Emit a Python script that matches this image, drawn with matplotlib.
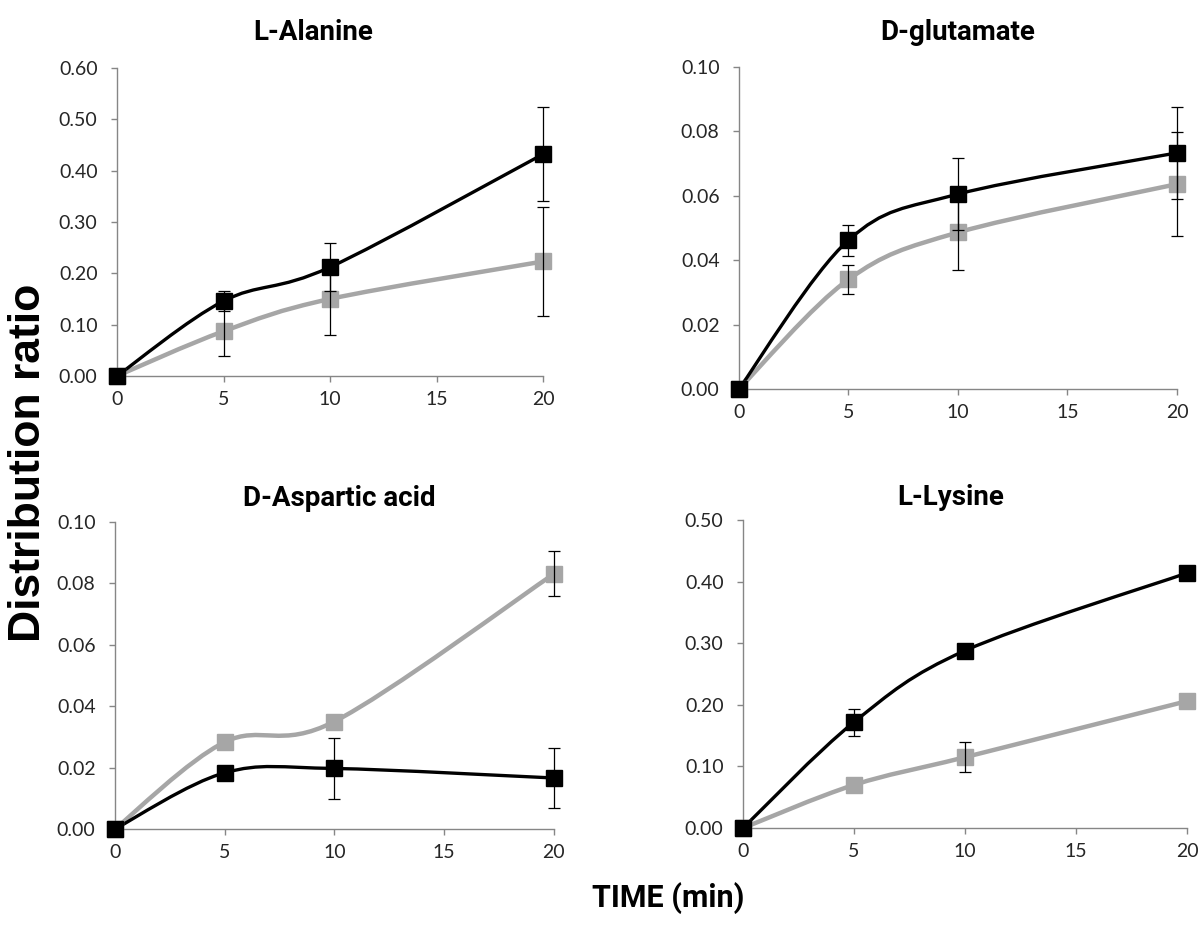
import numpy as np
import matplotlib.pyplot as plt
from matplotlib.path import Path
from matplotlib.patches import PathPatch

plt.rcParams['font.family'] = ['Lato', 'Liberation Sans', 'DejaVu Sans']
TITLE_FONT = ['Roboto', 'Liberation Sans', 'DejaVu Sans']

time = [0, 5, 10, 20]

titles = ['L-Alanine', 'D-glutamate', 'D-Aspartic acid', 'L-Lysine']

# black series (mean, error)
black_vals = [
    [0, 0.146, 0.212, 0.432],
    [0, 0.0462, 0.0605, 0.0733],
    [0, 0.0183, 0.0197, 0.0166],
    [0, 0.172, 0.288, 0.414],
]
black_err = [
    [0, 0.020, 0.047, 0.091],
    [0, 0.0048, 0.0112, 0.0142],
    [0, 0.0, 0.0098, 0.0097],
    [0, 0.022, 0.0, 0.0],
]
# grey series
grey_vals = [
    [0, 0.087, 0.150, 0.223],
    [0, 0.0340, 0.0486, 0.0636],
    [0, 0.0283, 0.0350, 0.0831],
    [0, 0.070, 0.115, 0.206],
]
grey_err = [
    [0, 0.049, 0.071, 0.107],
    [0, 0.0045, 0.0118, 0.0161],
    [0, 0.0, 0.0, 0.0073],
    [0, 0.0, 0.024, 0.0],
]

ymax = [0.60, 0.10, 0.10, 0.50]
ystep = [0.10, 0.02, 0.02, 0.10]

# axes boxes in figure fractions [left, bottom, width, height]
boxes = [
    [0.0975, 0.594, 0.355, 0.3326],
    [0.6158, 0.580, 0.365, 0.3477],
    [0.0958, 0.1048, 0.3658, 0.3315],
    [0.6192, 0.1058, 0.370, 0.3326],
]
# title centres (figure fractions)
title_pos = [(0.261, 0.965), (0.798, 0.965), (0.283, 0.462), (0.792, 0.463)]

GREY = '#a6a6a6'
AXC = '#868686'


def smooth_path(x, y):
    # Excel-like smoothed line: cubic Bezier through the points (Catmull-Rom)
    pts = np.column_stack([x, y]).astype(float)
    n = len(pts)
    verts = [pts[0]]
    codes = [Path.MOVETO]
    for i in range(n - 1):
        p0 = pts[max(i - 1, 0)]
        p1 = pts[i]
        p2 = pts[i + 1]
        p3 = pts[min(i + 2, n - 1)]
        c1 = p1 + (p2 - p0) / 6.0
        c2 = p2 - (p3 - p1) / 6.0
        verts += [c1, c2, p2]
        codes += [Path.CURVE4] * 3
    return Path(verts, codes)


fig = plt.figure(figsize=(12, 9.26), dpi=100)

for k in range(4):
    ax = fig.add_axes(boxes[k])
    for vals, errs, col, lw in [(grey_vals[k], grey_err[k], GREY, 3.2),
                                (black_vals[k], black_err[k], 'black', 2.4)]:
        patch = PathPatch(smooth_path(time, vals), facecolor='none', edgecolor=col,
                          lw=lw, zorder=2, clip_on=False)
        ax.add_patch(patch)
        ax.plot(time, vals, ls='none', marker='s', ms=12, color=col, mec=col,
                zorder=3, clip_on=False)
        e = np.array(errs)
        m = e > 0
        ax.errorbar(np.array(time)[m], np.array(vals)[m], yerr=e[m], fmt='none',
                    ecolor='black', elinewidth=0.9, capsize=4, capthick=0.9,
                    zorder=4, clip_on=False)
    ax.set_xlim(0, 20)
    ax.set_ylim(0, ymax[k])
    ax.set_xticks([0, 5, 10, 15, 20])
    ax.set_yticks(np.arange(0, ymax[k] + ystep[k] / 2, ystep[k]))
    ax.yaxis.set_major_formatter(plt.FormatStrFormatter('%.2f'))
    for s in ['top', 'right']:
        ax.spines[s].set_visible(False)
    for s in ['left', 'bottom']:
        ax.spines[s].set_color(AXC)
        ax.spines[s].set_linewidth(1.0)
    ax.tick_params(colors=AXC, labelcolor='#262626', labelsize=14, length=4,
                   width=1.0, direction='out')
    ax.tick_params(axis='x', pad=7)
    ax.tick_params(axis='y', pad=10)
    fig.text(title_pos[k][0], title_pos[k][1], titles[k], ha='center',
             va='center', fontsize=20, fontweight='bold', family=TITLE_FONT)

fig.text(0.024, 0.5, 'Distribution ratio', rotation=90, ha='center', va='center',
         fontsize=32, fontweight='bold', family=['Liberation Sans', 'DejaVu Sans'])
fig.text(0.557, 0.03, 'TIME (min)', ha='center', va='center', fontsize=22,
         fontweight='bold', family=TITLE_FONT)

fig.savefig('out.png', dpi=100)
